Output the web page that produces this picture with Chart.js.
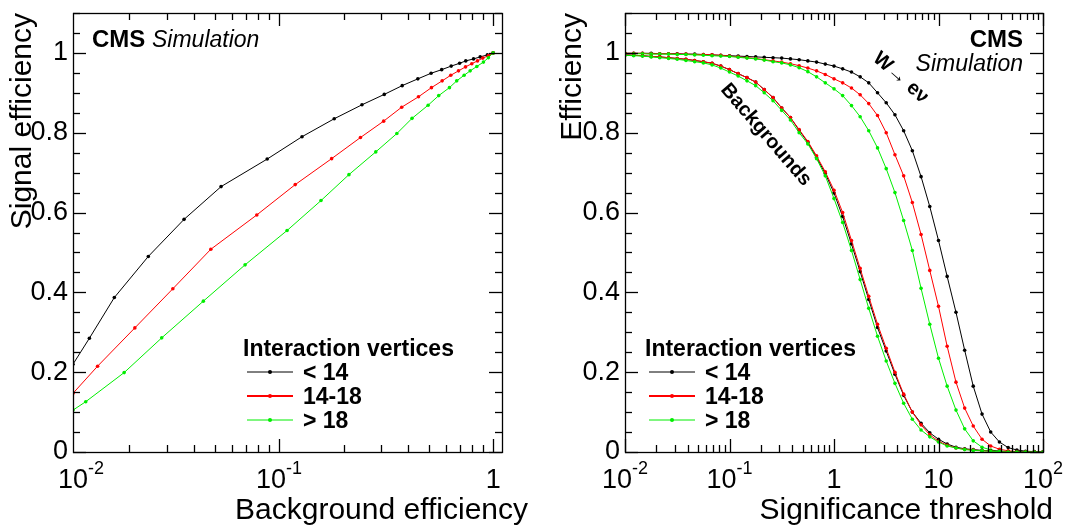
<!DOCTYPE html>
<html>
<head>
<meta charset="utf-8">
<script src="https://cdn.jsdelivr.net/npm/chart.js@4.4.1/dist/chart.umd.min.js"></script>
<style>
  body { margin: 0; background: #fff; }
  #wrap { position: relative; width: 1091px; height: 530px; }
  canvas { position: absolute; top: 0; }
</style>
</head>
<body>
<div id="wrap">
  <canvas id="rocChart" width="545" height="530" style="left:0"></canvas>
  <canvas id="effChart" width="546" height="530" style="left:545px"></canvas>
</div>
<script>
// ================= DATA =================
const seriesNames = ['< 14', '14-18', '> 18'];
const seriesColors = ['#000000', '#ff0000', '#00ee00'];

// left panel: signal efficiency vs background efficiency
const rocBkgLow = [0.0109, 0.013, 0.017, 0.0245, 0.036, 0.0536, 0.088, 0.128, 0.181, 0.244, 0.31, 0.376, 0.445, 0.513, 0.575, 0.637, 0.697, 0.745, 0.81, 0.87, 0.94, 1.0];
const rocSigLow = [0.22, 0.285, 0.387, 0.49, 0.583, 0.665, 0.734, 0.79, 0.835, 0.87, 0.896, 0.918, 0.935, 0.949, 0.958, 0.967, 0.974, 0.98, 0.985, 0.99, 0.995, 1.0];
const rocBkgMid = [0.0109, 0.0142, 0.0212, 0.0319, 0.048, 0.0787, 0.119, 0.176, 0.24, 0.308, 0.374, 0.448, 0.515, 0.578, 0.634, 0.689, 0.743, 0.795, 0.845, 0.895, 0.95, 1.0];
const rocSigMid = [0.147, 0.215, 0.311, 0.409, 0.508, 0.594, 0.67, 0.735, 0.788, 0.829, 0.864, 0.89, 0.913, 0.93, 0.944, 0.955, 0.965, 0.973, 0.98, 0.987, 0.993, 1.0];
const rocBkgHigh = [0.0109, 0.0125, 0.0189, 0.0283, 0.0443, 0.0694, 0.109, 0.157, 0.212, 0.283, 0.355, 0.418, 0.497, 0.557, 0.625, 0.676, 0.732, 0.781, 0.839, 0.901, 0.95, 1.0];
const rocSigHigh = [0.105, 0.126, 0.199, 0.286, 0.378, 0.469, 0.555, 0.63, 0.695, 0.752, 0.798, 0.836, 0.869, 0.893, 0.913, 0.93, 0.944, 0.955, 0.966, 0.977, 0.988, 1.0];

// right panel: efficiency vs significance threshold
const thresholds = [0.01, 0.0121, 0.0147, 0.0178, 0.0215, 0.0261, 0.0316, 0.0383, 0.0464, 0.0562, 0.0681, 0.0825,
  0.1, 0.121, 0.147, 0.178, 0.215, 0.261, 0.316, 0.383, 0.464, 0.562, 0.681, 0.825,
  1, 1.21, 1.47, 1.78, 2.15, 2.61, 3.16, 3.83, 4.64, 5.62, 6.81, 8.25,
  10, 12.1, 14.7, 17.8, 21.5, 26.1, 31.6, 38.3, 46.4, 56.2, 68.1, 82.5, 100];
const sigEffLow = [0.999, 0.999, 0.999, 0.999, 0.998, 0.998, 0.998, 0.997, 0.997, 0.996, 0.995, 0.994,
  0.993, 0.992, 0.991, 0.99, 0.989, 0.988, 0.987, 0.985, 0.983, 0.98, 0.977, 0.972,
  0.967, 0.96, 0.952, 0.94, 0.925, 0.9, 0.875, 0.845, 0.805, 0.755, 0.69, 0.615,
  0.53, 0.44, 0.35, 0.255, 0.165, 0.095, 0.05, 0.025, 0.011, 0.005, 0.002, 0.001, 0];
const sigEffMid = [0.999, 0.999, 0.999, 0.998, 0.998, 0.998, 0.997, 0.997, 0.996, 0.996, 0.995, 0.994,
  0.992, 0.99, 0.988, 0.986, 0.983, 0.98, 0.977, 0.973, 0.968, 0.962, 0.955, 0.946,
  0.935, 0.925, 0.912, 0.895, 0.873, 0.843, 0.8, 0.745, 0.692, 0.625, 0.545, 0.455,
  0.365, 0.265, 0.175, 0.11, 0.065, 0.032, 0.015, 0.007, 0.003, 0.001, 0, 0, 0];
const sigEffHigh = [0.998, 0.998, 0.998, 0.997, 0.997, 0.997, 0.996, 0.996, 0.995, 0.994, 0.993, 0.992,
  0.991, 0.989, 0.987, 0.985, 0.982, 0.978, 0.975, 0.97, 0.963, 0.953, 0.94, 0.925,
  0.91, 0.893, 0.868, 0.84, 0.805, 0.762, 0.71, 0.65, 0.58, 0.505, 0.41, 0.32,
  0.235, 0.165, 0.105, 0.058, 0.028, 0.012, 0.005, 0.002, 0.001, 0, 0, 0, 0];
const bkgEffLow = [0.995, 0.994, 0.993, 0.991, 0.99, 0.988, 0.986, 0.984, 0.981, 0.978, 0.974, 0.967,
  0.958, 0.948, 0.938, 0.927, 0.908, 0.888, 0.862, 0.838, 0.806, 0.776, 0.738, 0.698,
  0.649, 0.59, 0.521, 0.452, 0.382, 0.312, 0.253, 0.195, 0.142, 0.1, 0.072, 0.048,
  0.032, 0.02, 0.012, 0.008, 0.006, 0.004, 0.003, 0.002, 0.001, 0.001, 0, 0, 0];
const bkgEffMid = [0.995, 0.994, 0.993, 0.991, 0.99, 0.988, 0.986, 0.984, 0.981, 0.978, 0.974, 0.967,
  0.958, 0.948, 0.938, 0.927, 0.908, 0.888, 0.862, 0.838, 0.808, 0.778, 0.742, 0.702,
  0.656, 0.6, 0.53, 0.46, 0.39, 0.32, 0.26, 0.2, 0.145, 0.1, 0.068, 0.043,
  0.027, 0.017, 0.01, 0.007, 0.005, 0.003, 0.002, 0.001, 0.001, 0, 0, 0, 0];
const bkgEffHigh = [0.994, 0.993, 0.992, 0.99, 0.988, 0.986, 0.984, 0.981, 0.978, 0.975, 0.97, 0.962,
  0.952, 0.942, 0.93, 0.918, 0.9, 0.88, 0.856, 0.832, 0.8, 0.772, 0.735, 0.692,
  0.635, 0.575, 0.505, 0.432, 0.36, 0.29, 0.228, 0.172, 0.122, 0.082, 0.055, 0.038,
  0.025, 0.015, 0.01, 0.006, 0.004, 0.003, 0.002, 0.001, 0, 0, 0, 0, 0];

const FONT = '"Liberation Sans", Arial, Helvetica, sans-serif';

function pairs(xs, ys) { return xs.map((x, i) => ({ x: x, y: ys[i] })); }

function lineSet(data, color) {
    return {
        data: data, borderColor: color, backgroundColor: color,
        borderWidth: 1, pointRadius: 1.8, pointBorderWidth: 0, tension: 0
    };
}

function seg(ctx, x1, y1, x2, y2) {
    ctx.beginPath();
    ctx.moveTo(x1, y1);
    ctx.lineTo(x2, y2);
    ctx.stroke();
}

// ROOT style frame + inward ticks + labels, drawn by hand
function rootFramePlugin(cfg) {
    return {
        id: 'rootFrame',
        afterDraw(chart) {
            const ctx = chart.ctx, a = chart.chartArea;
            const xs = chart.scales.x, ys = chart.scales.y;
            ctx.save();
            ctx.strokeStyle = '#000';
            ctx.lineWidth = 1.3;
            ctx.strokeRect(a.left + 0.5, a.top + 0.5, a.right - a.left, a.bottom - a.top);
            // y ticks
            const yTicks = [];
            for (let i = 0; i <= 22; i++) yTicks.push(i);
            yTicks.forEach(i => {
                const py = Math.round(ys.getPixelForValue(i * 0.05)) + 0.5;
                const len = (i % 4 === 0) ? 13 : 7;
                seg(ctx, a.left, py, a.left + len, py);
                seg(ctx, a.right, py, a.right - len, py);
            });
            // x ticks (log)
            for (let e = cfg.xDecMin; e <= cfg.xDecMax; e++) {
                for (let m = 1; m <= 9; m++) {
                    const v = m * Math.pow(10, e);
                    if (v < cfg.xMin || v > cfg.xMax) continue;
                    const px = Math.round(xs.getPixelForValue(v)) + 0.5;
                    const len = m === 1 ? 13 : 7;
                    seg(ctx, px, a.bottom, px, a.bottom - len);
                    seg(ctx, px, a.top, px, a.top + len);
                }
            }
            ctx.lineWidth = 1;

            ctx.fillStyle = '#000';
            ctx.font = '27px ' + FONT;
            ctx.textAlign = 'right';
            ctx.textBaseline = 'middle';
            ['0', '0.2', '0.4', '0.6', '0.8', '1'].forEach((t, i) => {
                ctx.fillText(t, a.left - 5, ys.getPixelForValue(i * 0.2));
            });
            ctx.textBaseline = 'alphabetic';
            cfg.xLabels.forEach(l => {
                const px = xs.getPixelForValue(l.v);
                if (l.exp) {
                    ctx.font = '27px ' + FONT;
                    const w1 = ctx.measureText('10').width;
                    ctx.font = '18px ' + FONT;
                    const w2 = ctx.measureText(l.exp).width;
                    const x0 = px - (w1 + w2) / 2 + (l.shift || 0);
                    ctx.textAlign = 'left';
                    ctx.font = '27px ' + FONT;
                    ctx.fillText('10', x0, a.bottom + 36);
                    ctx.font = '18px ' + FONT;
                    ctx.fillText(l.exp, x0 + w1, a.bottom + 22);
                } else {
                    ctx.textAlign = 'center';
                    ctx.font = '27px ' + FONT;
                    ctx.fillText(l.t, px, a.bottom + 36);
                }
            });
            // axis titles
            ctx.font = '30px ' + FONT;
            ctx.textAlign = 'right';
            ctx.fillText(cfg.xTitle, a.right + cfg.xTitleShift, a.bottom + 67);
            ctx.save();
            ctx.translate(cfg.yTitleX, a.top);
            ctx.rotate(-Math.PI / 2);
            ctx.textAlign = 'right';
            ctx.fillText(cfg.yTitle, 0, 0);
            ctx.restore();

            // legend
            const L = cfg.legend;
            ctx.font = 'bold 23px ' + FONT;
            ctx.textAlign = 'left';
            ctx.fillText('Interaction vertices', L.x, L.y);
            seriesNames.forEach((n, i) => {
                const ly = L.y + 24 + i * 24;
                ctx.strokeStyle = seriesColors[i];
                ctx.lineWidth = i === 1 ? 2 : 1;
                seg(ctx, L.x + 4, ly - 8, L.x + 50, ly - 8);
                ctx.fillStyle = seriesColors[i];
                ctx.beginPath(); ctx.arc(L.x + 27, ly - 8, 2, 0, 2 * Math.PI); ctx.fill();
                ctx.fillStyle = '#000';
                ctx.fillText(n, L.x + 60, ly);
            });
            if (cfg.extra) cfg.extra(ctx, a);
            ctx.restore();
        }
    };
}

function baseOptions(xmin, xmax, pad) {
    return {
        responsive: false, animation: false,
        layout: { padding: pad },
        plugins: { legend: { display: false }, tooltip: { enabled: false } },
        scales: {
            x: { type: 'logarithmic', min: xmin, max: xmax, display: false },
            y: { type: 'linear', min: 0, max: 1.1, display: false }
        }
    };
}

// ================= LEFT PANEL =================
new Chart(document.getElementById('rocChart'), {
    type: 'line',
    data: {
        datasets: [
            lineSet(pairs(rocBkgHigh, rocSigHigh), seriesColors[2]),
            lineSet(pairs(rocBkgMid, rocSigMid), seriesColors[1]),
            lineSet(pairs(rocBkgLow, rocSigLow), seriesColors[0])
        ]
    },
    options: baseOptions(0.0109, 1.1, { left: 73, right: 43, top: 13, bottom: 78 }),
    plugins: [rootFramePlugin({
        xDecMin: -2, xDecMax: 0, xMin: 0.0109, xMax: 1.1,
        xLabels: [{ v: 0.0109, exp: '-2', shift: 8 }, { v: 0.1, exp: '-1' }, { v: 1, t: '1' }],
        xTitle: 'Background efficiency', xTitleShift: 26,
        yTitle: 'Signal efficiency', yTitleX: 31,
        legend: { x: 243, y: 356 },
        extra(ctx) {
            ctx.fillStyle = '#000';
            ctx.textAlign = 'left';
            ctx.font = 'bold 24px ' + FONT;
            ctx.fillText('CMS', 92, 47);
            const w = ctx.measureText('CMS ').width;
            ctx.font = 'italic 23px ' + FONT;
            ctx.fillText('Simulation', 92 + w, 47);
        }
    })]
});

// ================= RIGHT PANEL =================
new Chart(document.getElementById('effChart'), {
    type: 'line',
    data: {
        datasets: [
            lineSet(pairs(thresholds, bkgEffHigh), seriesColors[2]),
            lineSet(pairs(thresholds, bkgEffMid), seriesColors[1]),
            lineSet(pairs(thresholds, bkgEffLow), seriesColors[0]),
            lineSet(pairs(thresholds, sigEffHigh), seriesColors[2]),
            lineSet(pairs(thresholds, sigEffMid), seriesColors[1]),
            lineSet(pairs(thresholds, sigEffLow), seriesColors[0])
        ]
    },
    options: baseOptions(0.01, 100, { left: 80, right: 48, top: 13, bottom: 78 }),
    plugins: [rootFramePlugin({
        xDecMin: -2, xDecMax: 2, xMin: 0.0099, xMax: 101,
        xLabels: [{ v: 0.01, exp: '-2' }, { v: 0.1, exp: '-1' }, { v: 1, t: '1' }, { v: 10, t: '10' }, { v: 100, exp: '2' }],
        xTitle: 'Significance threshold', xTitleShift: 10,
        yTitle: 'Efficiency', yTitleX: 36,
        legend: { x: 100, y: 356 },
        extra(ctx) {
            ctx.fillStyle = '#000';
            ctx.textAlign = 'right';
            ctx.font = 'bold 24px ' + FONT;
            ctx.fillText('CMS', 478, 47);
            ctx.font = 'italic 23px ' + FONT;
            ctx.fillText('Simulation', 478, 71);
            ctx.font = 'bold 20px ' + FONT;
            ctx.textAlign = 'left';
            ctx.save();
            ctx.translate(327, 60);
            ctx.rotate(0.72);
            ctx.fillText('W\u2192 e\u03bd', 0, 0);
            ctx.restore();
            ctx.save();
            ctx.translate(175, 90);
            ctx.rotate(0.86);
            ctx.fillText('Backgrounds', 0, 0);
            ctx.restore();
        }
    })]
});
</script>
</body>
</html>
